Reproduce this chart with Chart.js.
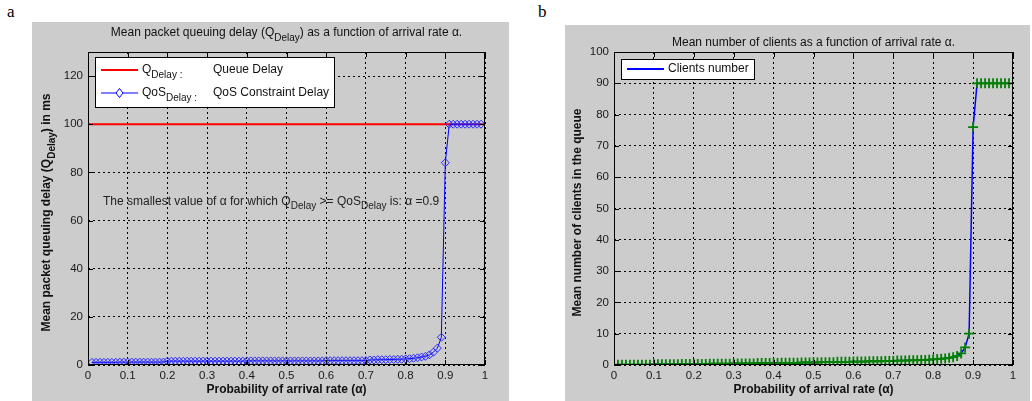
<!DOCTYPE html>
<html>
<head>
<meta charset="utf-8">
<script src="https://cdn.jsdelivr.net/npm/chart.js@4.4.1/dist/chart.umd.min.js"></script>
<style>
body { margin:0; width:1032px; height:401px; background:#fff; position:relative; overflow:hidden; }
.panel { position:absolute; background:#cccccc; }
.tag { position:absolute; font:17px "Liberation Serif", serif; color:#000; }
</style>
</head>
<body>
<div class="tag" style="left:7px;top:2px">a</div>
<div class="tag" style="left:538px;top:2px">b</div>
<div class="panel" style="left:32px;top:22px;width:477px;height:379px"><canvas id="c-delay"></canvas></div>
<div class="panel" style="left:565px;top:25px;width:465px;height:376px"><canvas id="c-clients"></canvas></div>
<script>
const FONT = '"Liberation Sans", Arial, sans-serif';

/* ── Data ── */
const alpha = [
    0.01,0.02,0.03,0.04,0.05,0.06,0.07,0.08,0.09,0.10,
    0.11,0.12,0.13,0.14,0.15,0.16,0.17,0.18,0.19,0.20,
    0.21,0.22,0.23,0.24,0.25,0.26,0.27,0.28,0.29,0.30,
    0.31,0.32,0.33,0.34,0.35,0.36,0.37,0.38,0.39,0.40,
    0.41,0.42,0.43,0.44,0.45,0.46,0.47,0.48,0.49,0.50,
    0.51,0.52,0.53,0.54,0.55,0.56,0.57,0.58,0.59,0.60,
    0.61,0.62,0.63,0.64,0.65,0.66,0.67,0.68,0.69,0.70,
    0.71,0.72,0.73,0.74,0.75,0.76,0.77,0.78,0.79,0.80,
    0.81,0.82,0.83,0.84,0.85,0.86,0.87,0.88,0.89,0.90,
    0.91,0.92,0.93,0.94,0.95,0.96,0.97,0.98,0.99
];

// QoS delay (ms), panel a
const qosDelay = [
    1.1,1.1,1.1,1.1,1.1,1.1,1.1,1.2,1.2,1.2,
    1.2,1.2,1.2,1.2,1.2,1.2,1.2,1.2,1.2,1.6,
    1.6,1.6,1.6,1.6,1.6,1.6,1.6,1.6,1.6,1.6,
    1.6,1.6,1.6,1.6,1.6,1.6,1.6,1.6,1.6,1.7,
    1.7,1.7,1.7,1.7,1.7,1.7,1.7,1.7,1.7,1.7,
    1.7,1.7,1.7,1.7,1.7,1.7,1.7,1.7,1.7,1.8,
    1.8,1.8,1.8,1.8,1.8,1.8,1.8,1.8,1.8,1.8,
    2.1,2.1,2.2,2.2,2.2,2.3,2.3,2.4,2.4,2.5,
    2.6,2.8,3.0,3.3,3.6,4.2,5.3,7.0,11.5,84,
    100,100,100,100,100,100,100,100,100
];

// Queue delay limit line, panel a
const qDelayX = [0, 1];
const qDelayY = [100, 100];

// Mean number of clients, panel b
const clients = [
    0.1,0.1,0.1,0.1,0.1,0.1,0.1,0.1,0.1,0.2,
    0.2,0.2,0.2,0.2,0.2,0.2,0.3,0.3,0.3,0.3,
    0.3,0.3,0.3,0.4,0.4,0.4,0.4,0.4,0.4,0.5,
    0.5,0.5,0.5,0.5,0.5,0.6,0.6,0.6,0.6,0.6,
    0.6,0.7,0.7,0.7,0.7,0.7,0.8,0.8,0.8,0.8,
    0.8,0.9,0.9,0.9,0.9,1.0,1.0,1.0,1.0,1.1,
    1.1,1.1,1.1,1.2,1.2,1.2,1.2,1.3,1.3,1.3,
    1.4,1.4,1.4,1.5,1.5,1.5,1.6,1.6,1.7,1.8,
    1.9,2.0,2.1,2.3,2.5,2.9,3.7,5.6,10,76,
    90,90,90,90,90,90,90,90,90
];

const xTicks  = [0,0.1,0.2,0.3,0.4,0.5,0.6,0.7,0.8,0.9,1];
const yTicksA = [0,20,40,60,80,100,120];
const yTicksB = [0,10,20,30,40,50,60,70,80,90,100];

/* ── Rich text with subscripts: segments are [text, isSub] ── */
function segFont(size, weight, sub) {
    return `${weight} ${sub ? Math.round(size * 0.8) : size}px ${FONT}`;
}
function richWidth(ctx, segs, size, weight) {
    let w = 0;
    segs.forEach(s => { ctx.font = segFont(size, weight, s[1]); w += ctx.measureText(s[0]).width; });
    return w;
}
function drawRich(ctx, segs, x, y, size, weight, align) {
    let cx = align === 'center' ? x - richWidth(ctx, segs, size, weight) / 2 : x;
    ctx.textAlign = 'left';
    ctx.textBaseline = 'middle';
    segs.forEach(s => {
        ctx.font = segFont(size, weight, s[1]);
        ctx.fillText(s[0], cx, s[1] ? y + size * 0.45 : y);
        cx += ctx.measureText(s[0]).width;
    });
}

/* ── MATLAB-ish frame, titles, legend ── */
const matlabFrame = {
    id: 'matlab',
    afterDraw(chart, args, o) {
        const ctx = chart.ctx, ca = chart.chartArea;
        const xs = chart.scales.x, ys = chart.scales.y;
        ctx.save();
        ctx.strokeStyle = '#000';
        ctx.lineWidth = 1;
        ctx.strokeRect(ca.left + 0.5, ca.top + 0.5, ca.width - 1, ca.height - 1);
        ctx.beginPath();
        xs.ticks.forEach(t => {
            const px = Math.round(xs.getPixelForValue(t.value)) + 0.5;
            ctx.moveTo(px, ca.bottom); ctx.lineTo(px, ca.bottom - 5);
            ctx.moveTo(px, ca.top);    ctx.lineTo(px, ca.top + 5);
        });
        ys.ticks.forEach(t => {
            const py = Math.round(ys.getPixelForValue(t.value)) + 0.5;
            ctx.moveTo(ca.left, py);  ctx.lineTo(ca.left + 5, py);
            ctx.moveTo(ca.right, py); ctx.lineTo(ca.right - 5, py);
        });
        ctx.stroke();

        ctx.fillStyle = '#111';
        drawRich(ctx, o.title, (ca.left + ca.right) / 2, o.titleY, 12, 'normal', 'center');
        drawRich(ctx, o.xTitle, (ca.left + ca.right) / 2, ca.bottom + 25, 12, 'bold', 'center');
        ctx.save();
        ctx.translate(o.yTitleX, (ca.top + ca.bottom) / 2 + 4);
        ctx.rotate(-Math.PI / 2);
        drawRich(ctx, o.yTitle, 0, 0, 12, 'bold', 'center');
        ctx.restore();

        if (o.note) {
            ctx.fillStyle = '#222';
            drawRich(ctx, o.note.segs, ca.left + o.note.dx, ys.getPixelForValue(o.note.y), 12, 'normal', 'left');
        }

        // legend box
        const L = o.legend;
        const bx = ca.left + L.dx, by = ca.top + L.dy;
        ctx.fillStyle = '#fff';
        ctx.fillRect(bx, by, L.w, L.h);
        ctx.strokeStyle = '#000';
        ctx.strokeRect(bx + 0.5, by + 0.5, L.w, L.h);
        L.items.forEach((it, i) => {
            const ry = by + L.rowY + i * L.rowH;
            ctx.strokeStyle = it.color;
            ctx.lineWidth = it.width;
            ctx.beginPath();
            ctx.moveTo(bx + 6, ry); ctx.lineTo(bx + 43, ry);
            ctx.stroke();
            if (it.marker) {
                ctx.lineWidth = 1;
                const mx = bx + 24.5;
                ctx.beginPath();
                ctx.moveTo(mx, ry - 4.5); ctx.lineTo(mx + 3.5, ry); ctx.lineTo(mx, ry + 4.5); ctx.lineTo(mx - 3.5, ry);
                ctx.closePath();
                ctx.fillStyle = '#fff';
                ctx.fill();
                ctx.stroke();
            }
            ctx.fillStyle = '#111';
            drawRich(ctx, it.label, bx + 47, ry, 12, 'normal', 'left');
            if (it.desc) drawRich(ctx, it.desc, bx + 118, ry, 12, 'normal', 'left');
        });
        ctx.restore();
    }
};

function xScale() {
    return {
        type: 'linear', min: 0, max: 1,
        afterBuildTicks: s => { s.ticks = xTicks.map(v => ({ value: v })); },
        afterFit: s => { s.height = 36; },
        ticks: { color: '#1a1a1a', font: { size: 11.5, family: FONT }, padding: 4, maxRotation: 0, callback: v => String(v) },
        grid: { color: '#000', lineWidth: 1, drawTicks: false },
        border: { display: false, dash: [2, 3] }
    };
}
function yScale(max, tickList, width) {
    return {
        min: 0, max: max,
        afterBuildTicks: s => { s.ticks = tickList.map(v => ({ value: v })); },
        afterFit: s => { s.width = width; },
        ticks: { color: '#1a1a1a', font: { size: 11.5, family: FONT }, padding: 5, callback: v => String(v) },
        grid: { color: '#000', lineWidth: 1, drawTicks: false },
        border: { display: false, dash: [2, 3] }
    };
}

new Chart(document.getElementById('c-delay'), {
    type: 'line',
    data: {
        datasets: [{
            data: qDelayX.map((x, i) => ({ x, y: qDelayY[i] })),
            borderColor: '#ff0000', borderWidth: 2, pointRadius: 0, order: 1
        }, {
            data: alpha.map((x, i) => ({ x, y: qosDelay[i] })),
            borderColor: '#0000ff', borderWidth: 1,
            pointStyle: 'rectRot', pointRadius: 4,
            pointBorderColor: '#2a2aff', pointBackgroundColor: 'rgba(0,0,0,0)', pointBorderWidth: 1,
            order: 0
        }]
    },
    options: {
        responsive: true, maintainAspectRatio: false, animation: false,
        layout: { padding: { top: 30, right: 24, left: 0, bottom: 0 } },
        plugins: {
            legend: { display: false }, tooltip: { enabled: false },
            matlab: {
                titleY: 11,
                title: [['Mean packet queuing delay (Q', 0], ['Delay', 1], [') as a function of arrival rate α.', 0]],
                xTitle: [['Probability of arrival rate (α)', 0]],
                yTitleX: 15,
                yTitle: [['Mean packet queuing delay (Q', 0], ['Delay', 1], [') in ms', 0]],
                note: { dx: 15, y: 68, segs: [['The smallest value of α for which Q', 0], ['Delay', 1], [' >= QoS', 0], ['Delay', 1], [' is: α =0.9', 0]] },
                legend: {
                    dx: 7, dy: 5, w: 239, h: 50, rowY: 13, rowH: 23,
                    items: [
                        { color: '#ff0000', width: 2, label: [['Q', 0], ['Delay', 1], [' :', 1]], desc: [['Queue Delay', 0]] },
                        { color: '#0000ff', width: 1, marker: true, label: [['QoS', 0], ['Delay', 1], [' :', 1]], desc: [['QoS Constraint Delay', 0]] }
                    ]
                }
            }
        },
        scales: { x: xScale(), y: yScale(130, yTicksA, 56) }
    },
    plugins: [matlabFrame]
});

new Chart(document.getElementById('c-clients'), {
    type: 'line',
    data: {
        datasets: [{
            data: alpha.map((x, i) => ({ x, y: clients[i] })),
            borderColor: '#0000ff', borderWidth: 1.5,
            pointStyle: 'cross', pointRadius: 5,
            pointBorderColor: '#008000', pointBorderWidth: 1.8
        }]
    },
    options: {
        responsive: true, maintainAspectRatio: false, animation: false,
        layout: { padding: { top: 27, right: 17, left: 0, bottom: 0 } },
        plugins: {
            legend: { display: false }, tooltip: { enabled: false },
            matlab: {
                titleY: 18,
                title: [['Mean number of clients as a function of arrival rate α.', 0]],
                xTitle: [['Probability of arrival rate (α)', 0]],
                yTitleX: 13,
                yTitle: [['Mean number of clients in the queue', 0]],
                legend: {
                    dx: 7, dy: 7, w: 133, h: 20, rowY: 10, rowH: 0,
                    items: [{ color: '#0000ff', width: 2, label: [['Clients number', 0]] }]
                }
            }
        },
        scales: { x: xScale(), y: yScale(100, yTicksB, 49) }
    },
    plugins: [matlabFrame]
});
</script>
</body>
</html>
